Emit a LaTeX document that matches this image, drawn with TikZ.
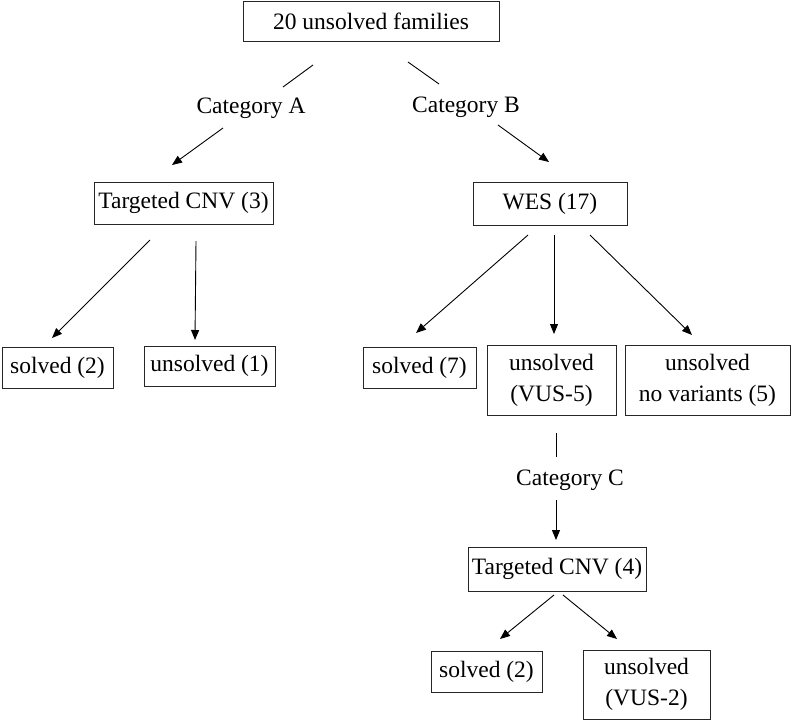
\documentclass[tikz,border=0pt]{standalone}
\usepackage{fontspec}
\setmainfont{Liberation Serif}
\usetikzlibrary{arrows.meta}
\begin{document}
\begin{tikzpicture}[x=1pt,y=-1pt,
  every node/.style={font=\fontsize{23.5}{31}\selectfont, inner sep=0pt, align=center},
  boxnode/.style={draw=black!85, line width=0.9pt},
  conn/.style={line width=0.9pt},
  arr/.style={conn, -{Triangle[length=10pt,width=8pt]}}]
\useasboundingbox (0,0) rectangle (793,721);
% nodes
\node[boxnode, minimum width=256, minimum height=40] (top) at (371,21) {20 unsolved families};
\node (catA) at (251,108) {Category A};
\node (catB) at (466,107) {Category B};
\node[boxnode, minimum width=179, minimum height=42] (tcnv3) at (183.5,203) {Targeted CNV (3)};
\node[boxnode, minimum width=154, minimum height=43] (wes) at (550,203.5) {WES (17)};
\node[boxnode, minimum width=111, minimum height=41] (s2) at (57.5,367.5) {solved (2)};
\node[boxnode, minimum width=131, minimum height=40] (u1) at (209.5,366) {unsolved (1)};
\node[boxnode, minimum width=113, minimum height=41] (s7) at (419.5,367.5) {solved (7)};
\node[boxnode, minimum width=129, minimum height=70] (vus5) at (551.5,380) {unsolved\\(VUS-5)};
\node[boxnode, minimum width=165, minimum height=70] (nov) at (707.5,380) {unsolved\\no variants (5)};
\node (catC) at (570,480) {Category C};
\node[boxnode, minimum width=178, minimum height=44] (tcnv4) at (557,569) {Targeted CNV (4)};
\node[boxnode, minimum width=111, minimum height=41] (s2b) at (486.5,671.5) {solved (2)};
\node[boxnode, minimum width=127, minimum height=69] (vus2) at (646.5,684.5) {unsolved\\(VUS-2)};
% connector end points
\coordinate (ta1) at (313,65); \coordinate (ta2) at (283,87);
\coordinate (tb1) at (408,62); \coordinate (tb2) at (439,84);
\coordinate (aa1) at (223,128); \coordinate (aa2) at (172,165);
\coordinate (ab1) at (498,125); \coordinate (ab2) at (549,162);
\coordinate (c1a) at (150,240); \coordinate (c1b) at (52,338);
\coordinate (c2a) at (196,241); \coordinate (c2b) at (195,340);
\coordinate (w1a) at (528,235); \coordinate (w1b) at (416,333);
\coordinate (w2a) at (554,235); \coordinate (w2b) at (554,334);
\coordinate (w3a) at (590,235); \coordinate (w3b) at (692,335);
\coordinate (v1) at (556,433); \coordinate (v2) at (556,457);
\coordinate (cc1) at (556,500); \coordinate (cc2) at (556,540);
\coordinate (t1a) at (554,595); \coordinate (t1b) at (500,639);
\coordinate (t2a) at (563,595); \coordinate (t2b) at (617,639);
% connectors
\draw[conn] (ta1) -- (ta2);
\draw[conn] (tb1) -- (tb2);
\draw[arr] (aa1) -- (aa2);
\draw[arr] (ab1) -- (ab2);
\draw[arr] (c1a) -- (c1b);
\draw[arr] (c2a) -- (c2b);
\draw[arr] (w1a) -- (w1b);
\draw[arr] (w2a) -- (w2b);
\draw[arr] (w3a) -- (w3b);
\draw[conn] (v1) -- (v2);
\draw[arr] (cc1) -- (cc2);
\draw[arr] (t1a) -- (t1b);
\draw[arr] (t2a) -- (t2b);
\end{tikzpicture}
\end{document}
